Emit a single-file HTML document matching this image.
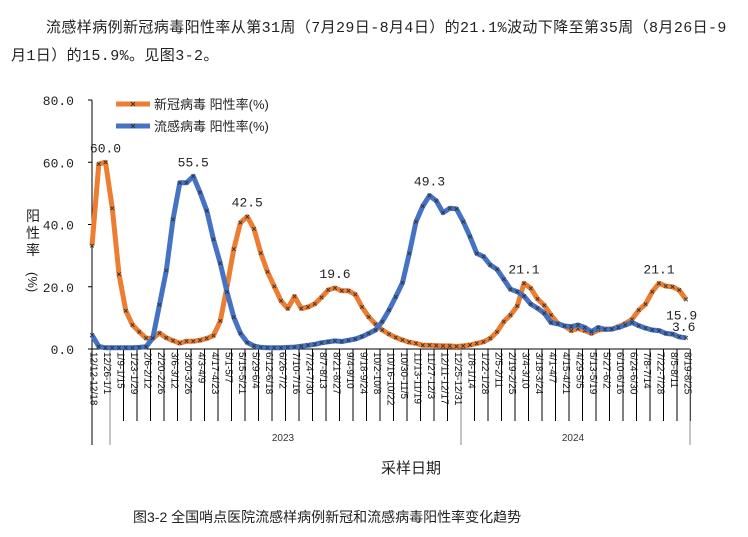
<!DOCTYPE html>
<html><head><meta charset="utf-8"><style>
body{margin:0;width:748px;height:537px;background:#fff;overflow:hidden;font-family:"Liberation Sans","Noto Sans CJK SC",sans-serif;}
.p{position:absolute;font-family:"Liberation Mono","Noto Sans CJK SC",monospace;font-size:15px;color:#222;white-space:nowrap;}
</style></head><body>
<div class="p" style="left:46px;top:16px;letter-spacing:0.4px">流感样病例新冠病毒阳性率从第31周（7月29日-8月4日）的21.1%波动下降至第35周（8月26日-9</div>
<div class="p" style="left:11px;top:44px;letter-spacing:0.4px">月1日）的15.9%。见图3-2。</div>
<svg id="chart" width="748" height="537" style="position:absolute;left:0;top:0" font-family="Liberation Sans, Noto Sans CJK SC, sans-serif"></svg>
<script>
const categories=["12/12-12/18","12/26-1/1","1/9-1/15","1/23-1/29","2/6-2/12","2/20-2/26","3/6-3/12","3/20-3/26","4/3-4/9","4/17-4/23","5/1-5/7","5/15-5/21","5/29-6/4","6/12-6/18","6/26-7/2","7/10-7/16","7/24-7/30","8/7-8/13","8/21-8/27","9/4-9/10","9/18-9/24","10/2-10/8","10/16-10/22","10/30-11/5","11/13-11/19","11/27-12/3","12/11-12/17","12/25-12/31","1/8-1/14","1/22-1/28","2/5-2/11","2/19-2/25","3/4-3/10","3/18-3/24","4/1-4/7","4/15-4/21","4/29-5/5","5/13-5/19","5/27-6/2","6/10-6/16","6/24-6/30","7/8-7/14","7/22-7/28","8/5-8/11","8/19-8/25"];
const covid=[33.2,59.4,60.0,45.2,24.0,12.3,7.7,5.5,3.5,3.4,5.1,3.6,2.7,1.9,2.5,2.5,2.8,3.4,4.3,9.0,20.0,32.1,40.6,42.5,38.6,30.8,24.8,20.1,15.5,13.0,16.9,13.0,13.5,14.5,16.6,19.0,19.6,18.7,18.7,17.5,13.5,10.3,8.0,6.1,4.8,3.7,2.9,2.2,1.8,1.2,1.2,1.1,1.0,1.0,0.8,1.0,1.3,1.8,2.3,3.4,5.5,8.8,10.9,13.8,21.1,19.5,16.1,14.0,10.9,8.2,7.4,5.9,6.6,5.9,5.0,6.1,6.4,6.4,7.2,8.2,9.5,12.5,14.4,18.4,21.1,20.2,20.0,18.9,15.9];
const flu=[4.5,0.8,0.4,0.4,0.4,0.4,0.4,0.5,0.7,3.5,14.2,25.2,41.6,53.4,53.4,55.5,50.3,44.4,35.2,27.5,18.3,10.2,5.0,2.1,1.0,0.5,0.4,0.4,0.4,0.5,0.6,0.9,1.2,1.5,2.0,2.3,2.6,2.4,2.8,3.2,4.0,5.0,6.1,8.8,12.5,16.8,21.3,30.7,40.9,45.9,49.3,47.6,43.8,45.2,45.0,40.9,36.1,30.7,29.7,27.0,25.6,22.4,19.2,18.4,17.0,14.4,13.1,11.5,8.5,8.1,7.4,7.2,7.7,6.9,5.6,6.9,6.3,6.4,6.9,7.7,8.5,7.5,6.7,6.1,5.9,5.0,4.8,3.9,3.6];
const yTicks=["0.0","20.0","40.0","60.0","80.0"];
const yVals=[0,20,40,60,80];
const peakIdx=[2,23,36,64,84];
const fluPeakIdx=[15,50];
const years=["2023","2024"];
const svg=document.getElementById('chart');const NS='http://www.w3.org/2000/svg';
function mk(t,a,p){const e=document.createElementNS(NS,t);for(const k in a)e.setAttribute(k,a[k]);(p||svg).appendChild(e);return e;}
const X0=92,X1=686,Y0=349,Y1=100;
const xs=i=>X0+i*(X1-X0)/(covid.length-1);
const ys=v=>Y0-(v/80)*(Y0-Y1);
let e=mk('line',{x1:X0,y1:Y1,x2:X0,y2:Y0,stroke:'#000','stroke-width':1});


yVals.forEach((v,i)=>{
 let t=mk('line',{x1:X0-4,x2:X0,y1:ys(v),y2:ys(v),stroke:'#000'});
 
 
 let l=mk('text',{x:X0-18,y:ys(v)+5,'text-anchor':'end','font-size':13,fill:'#222','font-family':'Liberation Mono, monospace'});
 l.textContent=yTicks[i];
 
 
});
e=mk('line',{x1:X0,y1:Y0,x2:690,y2:Y0,stroke:'#000'});


const step=(X1-X0)/(covid.length-1)*2;
for(let k=0;k<=43;k++){const x=110+k*step;
 let t=mk('line',{x1:x,x2:x,y1:Y0,y2:(k==0||k==26)?445:421,stroke:k==0||k==26?'#888':'#000','stroke-width':1});
 
 }
e=mk('line',{x1:92,x2:92,y1:Y0,y2:445,stroke:'#000'});


e=mk('line',{x1:690,x2:690,y1:Y0,y2:445,stroke:'#888'});


categories.forEach((c,i)=>{const x=94+i*step;
 let t=mk('text',{x:0,y:0,transform:`translate(${x-3.5},352) rotate(90)`,'font-size':10,fill:'#111'});
 t.textContent=c;
 
 });
[[283,years[0]],[573,years[1]]].forEach(p=>{let t=mk('text',{x:p[0],y:441,'text-anchor':'middle','font-size':10,fill:'#333'});t.textContent=p[1];
 
 });
function series(data,color,name){
 const g=mk('g',{});
 
 
 const d=data.map((v,i)=>(i?'L':'M')+xs(i).toFixed(1)+','+ys(v).toFixed(1)).join('');
 mk('path',{d,fill:'none',stroke:color,'stroke-width':5,'stroke-linejoin':'round'},g);
 data.forEach((v,i)=>{const x=xs(i),y=ys(v);
  let m=mk('path',{d:`M${x-1.8},${y-1.8}L${x+1.8},${y+1.8}M${x-1.8},${y+1.8}L${x+1.8},${y-1.8}`,stroke:'#333','stroke-width':0.9},g);
  
  });
}
series(covid,'#ED7D31','covid-series');
series(flu,'#4472C4','flu-series');
peakIdx.forEach(i=>{let t=mk('text',{x:xs(i),y:ys(covid[i])-10,'text-anchor':'middle','font-size':13,fill:'#222','font-family':'Liberation Mono, monospace'});
 t.textContent=covid[i].toFixed(1);
 
 });
fluPeakIdx.forEach(i=>{let t=mk('text',{x:xs(i),y:ys(flu[i])-10,'text-anchor':'middle','font-size':13,fill:'#222','font-family':'Liberation Mono, monospace'});
 t.textContent=flu[i].toFixed(1);
 
 });
const last=covid.length-1;
e=mk('text',{x:xs(last)-20,y:ys(covid[last])+20,'font-size':13,fill:'#222','font-family':'Liberation Mono, monospace'});
e.textContent=covid[last].toFixed(1);


e=mk('text',{x:xs(last)-14,y:ys(flu[last])-7,'font-size':13,fill:'#222','font-family':'Liberation Mono, monospace'});
e.textContent=flu[last].toFixed(1);


[['#ED7D31','新冠病毒 阳性率(%)',104,'legend-covid'],['#4472C4','流感病毒 阳性率(%)',126,'legend-flu']].forEach(l=>{
 const g=mk('g',{});
 
 
 mk('line',{x1:116,x2:150,y1:l[2],y2:l[2],stroke:l[0],'stroke-width':5},g);
 mk('path',{d:`M131,${l[2]-2}L135,${l[2]+2}M131,${l[2]+2}L135,${l[2]-2}`,stroke:'#333','stroke-width':0.9},g);
 let t=mk('text',{x:154,y:l[2]+5,'font-size':13,fill:'#222'},g);t.textContent=l[1];});
['阳','性','率'].forEach((c,i)=>{let t=mk('text',{x:33,y:221+i*17,'text-anchor':'middle','font-size':14,fill:'#222'});t.textContent=c;
 
 });
e=mk('text',{x:0,y:0,transform:'translate(28,272) rotate(90)','font-size':13,fill:'#222'});e.textContent='(%)';


e=mk('text',{x:411,y:473,'text-anchor':'middle','font-size':15,fill:'#222'});e.textContent='采样日期';


e=mk('text',{x:133,y:522,'font-size':14,fill:'#222'});e.textContent='图3-2  全国哨点医院流感样病例新冠和流感病毒阳性率变化趋势';


</script>
</body></html>
